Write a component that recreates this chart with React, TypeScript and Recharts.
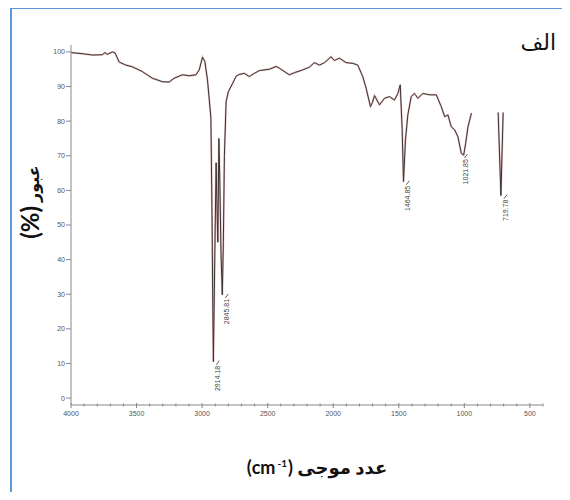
import React from "react";
import { ComposedChart, Line, Scatter, XAxis, YAxis } from "recharts";

// Wavenumber (cm-1) and transmittance (%)
const wavenumbers = [
  4000, 3914, 3837, 3761, 3740, 3723, 3684, 3664, 3633, 3582, 3532, 3455, 3379, 3303, 3251,
  3213, 3150, 3099, 3047, 3022, 2997, 2979, 2959, 2933, 2925, 2918, 2914, 2910, 2900, 2893,
  2888, 2880, 2872, 2865, 2856, 2846, 2838, 2830, 2817, 2800, 2766, 2740, 2717, 2678, 2640,
  2602, 2564, 2487, 2436, 2411, 2335, 2296, 2233, 2182, 2144, 2105, 2067, 2016, 1991, 1953,
  1902, 1851, 1813, 1775, 1749, 1716, 1700, 1685, 1647, 1609, 1571, 1533, 1507, 1489, 1474,
  1464, 1449, 1431, 1405, 1380, 1354, 1316, 1265, 1214, 1176, 1150, 1125, 1100, 1074, 1049,
  1023, 1005, 990, 972, 946, 850, 742, 721, 704,
];
const transmittance: (number | null)[] = [
  99.8, 99.5, 99.1, 99.2, 99.8, 99.3, 100, 99.7, 97.1, 96.2, 95.7, 94.3, 92.4, 91.4, 91.3,
  92.4, 93.4, 93.1, 93.4, 94.8, 98.5, 97.2, 91.9, 81, 55, 25, 10.5, 22, 50, 68,
  58, 45, 75, 63, 42, 29.8, 45, 70, 85.6, 88.5, 91, 93, 93.5, 93.8, 92.9,
  93.8, 94.6, 95, 95.8, 95.3, 93.4, 94, 94.8, 95.6, 96.9, 96.2, 96.9, 98.6, 97.5, 98.2,
  96.9, 96.7, 96.2, 92.9, 89.5, 84.2, 85.5, 87.4, 84.7, 86.6, 87.1, 86.1, 88, 90.5, 77.5,
  62.5, 74.6, 81.8, 87.1, 88, 86.6, 88, 87.6, 87.6, 84.2, 81.3, 81.8, 78.4, 77.5, 75.5,
  70.7, 70.2, 73.6, 78.4, 82.3, null, 82.5, 58.5, 82.5,
];

// Peak annotations
const peakWavenumbers = [2914.18, 2845.81, 1464.85, 1021.85, 719.78];
const peakTransmittance = [10.5, 29.8, 62.5, 70.2, 58.5];
const peakLabels = ["2914.18", "2845.81", "1464.85", "1021.85", "719.78"];

// Axis ticks
const xMajorTicks = [4000, 3500, 3000, 2500, 2000, 1500, 1000, 500];
const xMinorTicks: number[] = [];
for (let v = 4000; v >= 400; v -= 100) xMinorTicks.push(v);
const yTicks = [0, 10, 20, 30, 40, 50, 60, 70, 80, 90, 100];

const spectrum = wavenumbers.map((w, i) => ({ w, t: transmittance[i] }));
const peaks = peakWavenumbers.map((w, i) => ({ w, t: peakTransmittance[i], label: peakLabels[i] }));

const XTick = (props: any) => {
  const { x, y, payload } = props;
  const v = payload.value;
  const major = xMajorTicks.includes(v);
  return (
    <g>
      <line x1={x} x2={x} y1={y - (major ? 2 : 1.5)} y2={y + (major ? 3 : 1.5)} stroke="#888" strokeWidth={1} />
      {major ? (
        <text x={x} y={y + 8} textAnchor="middle" dominantBaseline="central" fontSize={7} fill="#555" fontFamily="Liberation Sans, Arial, sans-serif">
          {v}
        </text>
      ) : null}
    </g>
  );
};

const PeakLabel = (props: any) => {
  const { cx, cy, payload } = props;
  if (cx == null || cy == null) return <g />;
  const lx = cx + 4.5;
  const ly = cy + 4;
  return (
    <g>
      <line x1={cx + 3} y1={cy + 3} x2={cx + 6} y2={cy - 1} stroke="#333" strokeWidth={0.8} />
      <text
        x={lx}
        y={ly}
        transform={`rotate(-90 ${lx} ${ly})`}
        textAnchor="end"
        dominantBaseline="central"
        fontSize={7}
        fill="#444"
        fontFamily="Liberation Sans, Arial, sans-serif"
      >
        {payload.label}
      </text>
    </g>
  );
};

export default function App() {
  return (
    <div style={{ position: "relative", width: 554, height: 484, background: "#fff" }}>
      <div
        style={{
          position: "absolute",
          left: 2,
          top: -1,
          width: 560,
          height: 490,
          borderTop: "2px solid #5b9bd5",
          borderLeft: "2px solid #5b9bd5",
          boxSizing: "border-box",
        }}
      />
      <div style={{ position: "absolute", left: 0, top: 0 }}>
        <ComposedChart
          width={554}
          height={484}
          data={spectrum}
          margin={{ top: 37, right: 19, bottom: 67, left: 33 }}
        >
          <XAxis
            dataKey="w"
            type="number"
            domain={[400, 4000]}
            reversed
            ticks={xMinorTicks}
            interval={0}
            tick={<XTick />}
            tickLine={false}
            tickSize={0}
            tickMargin={0}
            height={20}
            axisLine={{ stroke: "#888", strokeWidth: 1 }}
            allowDataOverflow
          />
          <YAxis
            type="number"
            domain={[-2, 102]}
            ticks={yTicks}
            interval={0}
            width={30}
            tickSize={5}
            tickMargin={1}
            tickLine={{ stroke: "#888" }}
            axisLine={{ stroke: "#888", strokeWidth: 1 }}
            tick={{ fontSize: 7, fill: "#555", fontFamily: "Liberation Sans, Arial, sans-serif" }}
            allowDataOverflow
          />
          <Line
            dataKey="t"
            type="linear"
            stroke="#e6c2c2"
            strokeWidth={2}
            dot={false}
            activeDot={false}
            connectNulls={false}
            isAnimationActive={false}
          />
          <Line
            dataKey="t"
            type="linear"
            stroke="#3a3232"
            strokeWidth={1}
            dot={false}
            activeDot={false}
            connectNulls={false}
            isAnimationActive={false}
          />
          <Scatter data={peaks} dataKey="t" shape={<PeakLabel />} isAnimationActive={false} />
        </ComposedChart>
      </div>
      <div
        style={{
          position: "absolute",
          right: 6,
          top: 22,
          fontSize: 22,
          fontFamily: "'DejaVu Sans', sans-serif",
          color: "#111",
          direction: "rtl",
        }}
      >
        الف
      </div>
      <div
        dir="rtl"
        style={{
          position: "absolute",
          left: 22,
          top: 194,
          width: 0,
          height: 0,
        }}
      >
        <div
          style={{
            position: "absolute",
            left: 0,
            top: 0,
            transform: "translate(-50%, -50%) rotate(-90deg)",
            whiteSpace: "nowrap",
            fontWeight: "bold",
            fontFamily: "Lato, 'DejaVu Sans', sans-serif",
            color: "#111",
            lineHeight: 1,
          }}
        >
          <span style={{ fontSize: 16 }}>عبور</span> <span style={{ fontSize: 24 }}>(%)</span>
        </div>
      </div>
      <div
        dir="rtl"
        style={{
          position: "absolute",
          left: 309,
          top: 459,
          width: 0,
          height: 0,
        }}
      >
        <div
          style={{
            position: "absolute",
            left: 0,
            top: 0,
            transform: "translate(-50%, -50%)",
            whiteSpace: "nowrap",
            fontWeight: "bold",
            fontSize: 18,
            fontFamily: "Lato, 'DejaVu Sans', sans-serif",
            color: "#111",
            lineHeight: 1,
          }}
        >
          <span>عدد موجی</span> <span dir="ltr" style={{ unicodeBidi: "isolate" }}>(cm<span style={{ fontSize: 10, verticalAlign: "top", lineHeight: 1, marginLeft: 2, marginRight: 1 }}>-1</span>)</span>
        </div>
      </div>
    </div>
  );
}
